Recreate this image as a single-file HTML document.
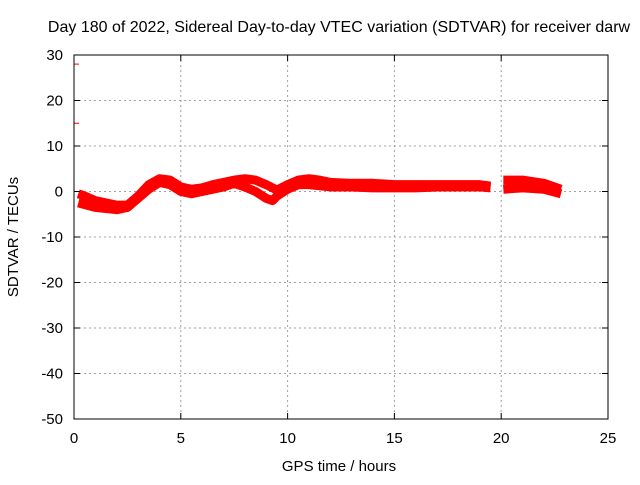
<!DOCTYPE html>
<html><head><meta charset="utf-8"><style>
body{margin:0;background:#fff}
svg{font-family:"Liberation Sans",sans-serif;font-size:15px}
</style></head><body>
<svg width="640" height="480">
<rect width="640" height="480" fill="#fff"/>
<text x="339" y="32" text-anchor="middle" font-size="16">Day 180 of 2022, Sidereal Day-to-day VTEC variation (SDTVAR) for receiver darw</text>
<g id="grid"></g>
<g id="data"></g>
<rect x="74" y="55" width="534" height="364" fill="none" stroke="#000"/>
<g id="ticks"></g>
<text x="339" y="471" text-anchor="middle">GPS time / hours</text>
<text transform="translate(18,237) rotate(-90)" text-anchor="middle">SDTVAR / TECUs</text>
</svg>
<script>
const xTicks=[0,5,10,15,20,25];
const yTicks=[30,20,10,0,-10,-20,-30,-40,-50];
const upperHours=[0.2,0.5,1,1.5,2,2.5,3,3.5,4,4.5,5,5.5,6,6.5,7,7.5,8,8.5,9,9.5,10,10.5,11,11.5,12,13,14,15,16,17,18,19,19.5];
const upperVals=[-0.5,-1,-2,-2.5,-3,-3,-1,1.5,2.8,2.5,1,0.5,0.8,1.5,2,2.5,2.8,2.5,1.5,0.3,1.5,2.5,2.8,2.5,2,1.8,1.8,1.5,1.5,1.5,1.5,1.5,1.2];
const lowerHours=[0.2,1,2,2.5,3,3.5,4,4.5,5,5.5,6,7,7.5,8,8.5,9,9.3,9.5,10,10.5,11,12,13,14,15,16,17,18,19,19.5];
const lowerVals=[-2.5,-3.5,-4,-3.5,-1.5,0.5,2,1.5,0,-0.5,0,1,1.8,1,0,-1.5,-2,-1,0.5,1.5,1.5,1,1,0.8,0.8,0.8,1,1,1,0.8];
const lateUpperHours=[20.1,21,22,22.8];
const lateUpperVals=[2.5,2.5,1.8,0.5];
const lateLowerHours=[20.1,21,22,22.8];
const lateLowerVals=[0.5,0.8,0.5,-0.5];
const outlierHours=[0,0];
const outlierVals=[28,15];
const X=h=>74+h*534/25, Y=v=>55+(30-v)*364/80;
const NS="http://www.w3.org/2000/svg";
const grid=document.getElementById('grid'),ticks=document.getElementById('ticks'),data=document.getElementById('data');
function mk(tag,attrs,parent){const e=document.createElementNS(NS,tag);for(const k in attrs)e.setAttribute(k,attrs[k]);parent.appendChild(e);return e;}
xTicks.forEach(t=>{
  const x=X(t);
  if(t>0&&t<25){const l=mk('line',{x1:x,x2:x,y1:55,y2:419,stroke:'#a0a0a0','stroke-dasharray':'2,3'},grid);
  
  }
  mk('line',{x1:x,x2:x,y1:419,y2:413,stroke:'#000'},ticks);
  mk('line',{x1:x,x2:x,y1:55,y2:61,stroke:'#000'},ticks);
  const tx=mk('text',{x:x,y:443,'text-anchor':'middle'},ticks);tx.textContent=t;
  
  
});
yTicks.forEach(t=>{
  const y=Y(t);
  if(t<30&&t>-50){const l=mk('line',{x1:74,x2:608,y1:y,y2:y,stroke:'#a0a0a0','stroke-dasharray':'2,3'},grid);
  
  }
  mk('line',{x1:74,x2:80,y1:y,y2:y,stroke:'#000'},ticks);
  mk('line',{x1:608,x2:602,y1:y,y2:y,stroke:'#000'},ticks);
  const tx=mk('text',{x:63,y:y+5,'text-anchor':'end'},ticks);tx.textContent=t;
  
  
});
function series(hs,vs,name){
  const p=mk('polyline',{points:hs.map((h,i)=>X(h)+','+Y(vs[i])).join(' '),fill:'none',stroke:'#f00','stroke-width':9,'stroke-linejoin':'round','stroke-linecap':'butt'},data);
  
  
}
series(upperHours,upperVals,'sdtvar-upper-track');
series(lowerHours,lowerVals,'sdtvar-lower-track');
series(lateUpperHours,lateUpperVals,'sdtvar-late-upper-track');
series(lateLowerHours,lateLowerVals,'sdtvar-late-lower-track');
outlierHours.forEach((h,i)=>{
  const l=mk('line',{x1:X(h),x2:X(h)+5,y1:Y(outlierVals[i]),y2:Y(outlierVals[i]),stroke:'#f00','stroke-width':1},data);
  
  
});
</script>
</body></html>
